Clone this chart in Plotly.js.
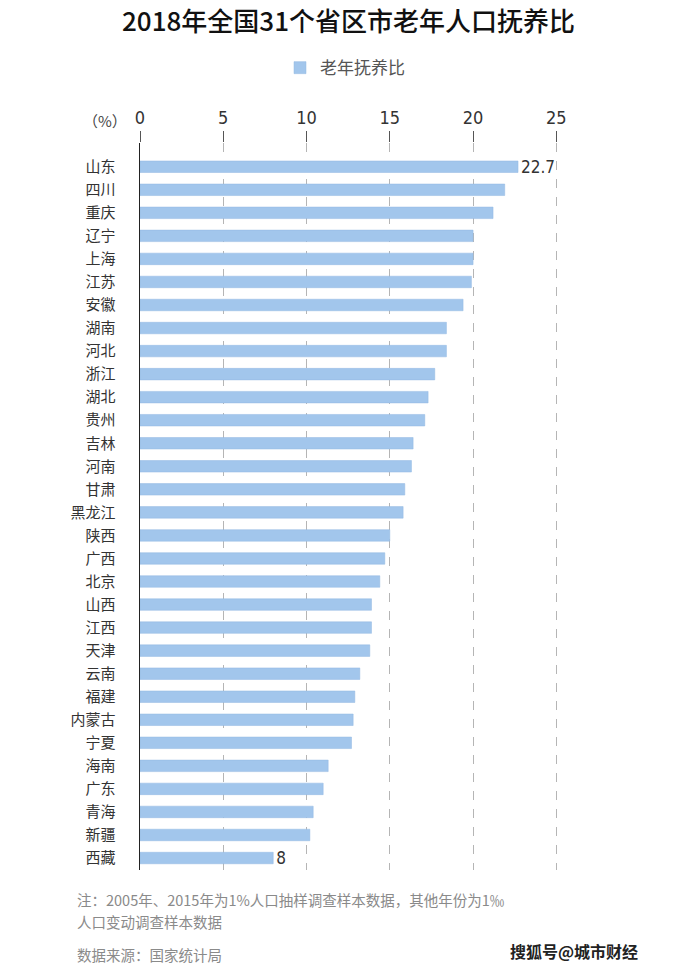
<!DOCTYPE html>
<html>
<head>
<meta charset="utf-8">
<script src="https://cdn.plot.ly/plotly-3.0.1.min.js"></script>
<style>html,body{margin:0;padding:0;background:#fff;}#chart{width:697px;height:967px;}</style>
</head>
<body>
<div id="chart"></div>
<script>
const provinces = ['山东','四川','重庆','辽宁','上海','江苏','安徽','湖南','河北','浙江','湖北','贵州','吉林','河南','甘肃','黑龙江','陕西','广西','北京','山西','江西','天津','云南','福建','内蒙古','宁夏','海南','广东','青海','新疆','西藏'];
const ratios = [22.7,21.9,21.2,20.0,20.0,19.9,19.4,18.4,18.4,17.7,17.3,17.1,16.4,16.3,15.9,15.8,15.0,14.7,14.4,13.9,13.9,13.8,13.2,12.9,12.8,12.7,11.3,11.0,10.4,10.2,8];
const xTicks = [0,5,10,15,20,25];
const seriesName = '老年抚养比';
const titleText = '2018年全国31个省区市老年人口抚养比';
const unitText = '（%）';
const note1 = '注：2005年、2015年为1%人口抽样调查样本数据，其他年份为1‰';
const note2 = '人口变动调查样本数据';
const sourceText = '数据来源：国家统计局';
const credit = '搜狐号@城市财经';

const labels = ratios.map((v,i) => (i === 0 || i === ratios.length-1) ? String(v) : '');

const cjk = '"Noto Sans CJK SC", "Noto Sans", sans-serif';
const narrow = '"Liberation Sans Narrow", "DejaVu Sans Condensed", "Roboto", sans-serif';

const trace = {
  type: 'bar',
  orientation: 'h',
  y: provinces,
  x: ratios,
  name: seriesName,
  marker: {color: '#a2c6ec', line: {color: '#93b9e2', width: 0.5}},
  text: labels,
  textposition: 'outside',
  constraintext: 'none',
  cliponaxis: false,
  textfont: {family: narrow, size: 17, color: '#333'},
  hoverinfo: 'x+y'
};

const layout = {
  width: 697,
  height: 967,
  margin: {l: 140, r: 124, t: 143, b: 97, autoexpand: false},
  paper_bgcolor: '#fff',
  plot_bgcolor: '#fff',
  bargap: 0.5,
  uniformtext: {mode: false},
  title: {
    text: titleText,
    font: {family: cjk, size: 26, color: '#111', weight: 500},
    x: 0.5, xref: 'container', xanchor: 'center',
    y: 1 - 22/967, yref: 'container', yanchor: 'middle'
  },
  showlegend: true,
  legend: {
    orientation: 'h',
    x: 0.495, xref: 'container', xanchor: 'center',
    y: 1.103, yanchor: 'middle',
    font: {family: cjk, size: 17, color: '#555'},
    bgcolor: 'rgba(0,0,0,0)'
  },
  xaxis: {
    side: 'top',
    range: [0, 26],
    tickvals: xTicks,
    ticktext: xTicks.map(String),
    ticks: 'outside',
    ticklen: 11,
    tickcolor: '#555',
    tickwidth: 1,
    tickfont: {family: narrow, size: 18, color: '#333'},
    showgrid: true,
    gridcolor: '#b5b5b5',
    griddash: 'dash',
    gridwidth: 1,
    zeroline: false,
    showline: false,
    automargin: false,
    fixedrange: true
  },
  yaxis: {
    type: 'category',
    categoryorder: 'array',
    categoryarray: provinces,
    range: [30.52, -1.03],
    tickfont: {family: cjk, size: 15, color: '#333'},
    ticks: '',
    ticklabelstandoff: 20,
    showline: true,
    linecolor: '#222',
    linewidth: 1.5,
    showgrid: false,
    zeroline: false,
    automargin: false,
    fixedrange: true
  },
  annotations: [
    {text: unitText, xref: 'paper', yref: 'paper', x: -0.081, y: (870-120)/727, xanchor: 'center', yanchor: 'middle', showarrow: false, font: {family: cjk, size: 15, color: '#444'}},
    {text: note1, xref: 'paper', yref: 'paper', x: (75-140)/432.6, y: (870-899)/727, xanchor: 'left', yanchor: 'middle', showarrow: false, font: {family: cjk, size: 14.5, color: '#8a8a8a'}},
    {text: note2, xref: 'paper', yref: 'paper', x: (75-140)/432.6, y: (870-922)/727, xanchor: 'left', yanchor: 'middle', showarrow: false, font: {family: cjk, size: 14.5, color: '#8a8a8a'}},
    {text: sourceText, xref: 'paper', yref: 'paper', x: (75-140)/432.6, y: (870-955)/727, xanchor: 'left', yanchor: 'middle', showarrow: false, font: {family: cjk, size: 14.5, color: '#8a8a8a'}},
    {text: credit, xref: 'paper', yref: 'paper', x: (640-140)/432.6, y: (870-951)/727, xanchor: 'right', yanchor: 'middle', showarrow: false, font: {family: cjk, size: 16, color: '#222', weight: 'bold'}}
  ]
};

Plotly.newPlot('chart', [trace], layout, {displayModeBar: false, staticPlot: true});
</script>
</body>
</html>
